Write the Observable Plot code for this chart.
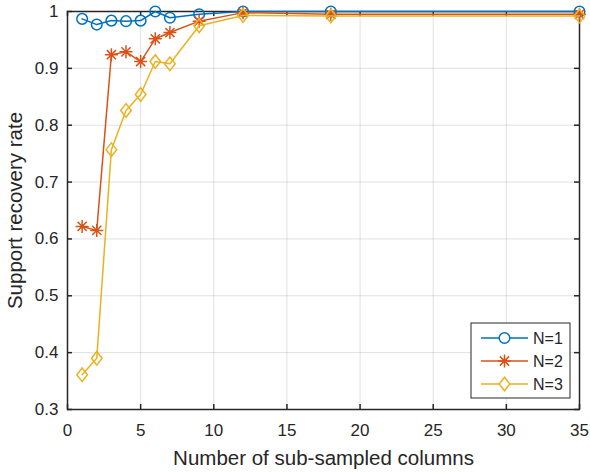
<!DOCTYPE html>
<html>
<head>
<meta charset="utf-8">
<script src="https://cdn.jsdelivr.net/npm/d3@7"></script>
<script src="https://cdn.jsdelivr.net/npm/@observablehq/plot@0.6"></script>
<style>
  html, body { margin: 0; padding: 0; background: #fff; }
  #chart { width: 590px; height: 472px; position: relative; }
  svg { font-family: "Liberation Sans", Arial, Helvetica, sans-serif; }
</style>
</head>
<body>
<div id="chart"></div>
<script>
// ---- data ----
const columns = [1, 2, 3, 4, 5, 6, 7, 9, 12, 18, 35];
const seriesNames = ["N=1", "N=2", "N=3"];
const rateN1 = [0.987, 0.977, 0.984, 0.983, 0.984, 1.000, 0.989, 0.995, 1.000, 1.000, 1.000];
const rateN2 = [0.622, 0.615, 0.924, 0.929, 0.912, 0.952, 0.963, 0.983, 0.998, 0.995, 0.995];
const rateN3 = [0.361, 0.390, 0.757, 0.826, 0.854, 0.912, 0.908, 0.975, 0.993, 0.992, 0.992];
const xTicks = [0, 5, 10, 15, 20, 25, 30, 35];
const yTicks = [0.3, 0.4, 0.5, 0.6, 0.7, 0.8, 0.9, 1];
const colors = ["#0072BD", "#D95319", "#EDB120"];

const seriesValues = [rateN1, rateN2, rateN3];

// custom symbols (MATLAB-like)
const asterisk8 = {
  draw(ctx, size) {
    const r = Math.sqrt(size / Math.PI);
    for (let i = 0; i < 4; i++) {
      const a = i * Math.PI / 4;
      const c = Math.cos(a) * r, s = Math.sin(a) * r;
      ctx.moveTo(-c, -s);
      ctx.lineTo(c, s);
    }
  }
};
const diamondM = {
  draw(ctx, size) {
    const r = Math.sqrt(size / Math.PI);
    const w = r * 0.78;
    ctx.moveTo(0, -r);
    ctx.lineTo(w, 0);
    ctx.lineTo(0, r);
    ctx.lineTo(-w, 0);
    ctx.closePath();
  }
};
const circleM = {
  draw(ctx, size) {
    const r = Math.sqrt(size / Math.PI);
    ctx.moveTo(r, 0);
    ctx.arc(0, 0, r, 0, 2 * Math.PI);
  }
};
const symbols = [circleM, asterisk8, diamondM];
const radii = [5.3, 6.5, 6.8];

const W = 590, H = 472;
const mL = 67, mR = 11, mT = 11, mB = 63;
const plotW = W - mL - mR, plotH = H - mT - mB;
const ink = "#262626";

const marks = [
  Plot.gridX(xTicks, {stroke: "#000", strokeOpacity: 0.12, strokeWidth: 1}),
  Plot.gridY(yTicks, {stroke: "#000", strokeOpacity: 0.12, strokeWidth: 1}),
  // inward ticks on all four sides
  Plot.ruleX(xTicks, {x: d => d, insetTop: plotH - 5, stroke: ink, strokeWidth: 1.5}),
  Plot.ruleX(xTicks, {x: d => d, insetBottom: plotH - 5, stroke: ink, strokeWidth: 1.5}),
  Plot.ruleY(yTicks, {y: d => d, insetRight: plotW - 5, stroke: ink, strokeWidth: 1.5}),
  Plot.ruleY(yTicks, {y: d => d, insetLeft: plotW - 5, stroke: ink, strokeWidth: 1.5}),
  Plot.frame({stroke: ink, strokeWidth: 1.5}),
  Plot.axisX(xTicks, {tickSize: 0, tickPadding: 14, fontSize: 17, color: ink, label: null}),
  Plot.axisY(yTicks, {tickSize: 0, tickPadding: 9, fontSize: 17, color: ink, label: null, tickFormat: d => String(+d.toFixed(1))}),
  Plot.text(["Number of sub-sampled columns"], {frameAnchor: "bottom", dy: 49, fontSize: 20.5, fill: ink, textAnchor: "middle", lineAnchor: "middle"}),
  Plot.text(["Support recovery rate"], {frameAnchor: "left", dx: -52, rotate: -90, fontSize: 20.5, fill: ink, textAnchor: "middle", lineAnchor: "middle"})
];

seriesValues.forEach((vals, i) => {
  const rows = columns.map((c, j) => ({x: c, y: vals[j], s: seriesNames[i]}));
  marks.push(Plot.line(rows, {x: "x", y: "y", stroke: colors[i], strokeWidth: 1.5}));
  marks.push(Plot.dot(rows, {x: "x", y: "y", symbol: symbols[i], r: radii[i], stroke: colors[i], fill: "none", strokeWidth: 1.5}));
});

const svg = Plot.plot({
  width: W, height: H,
  marginLeft: mL, marginRight: mR, marginTop: mT, marginBottom: mB,
  x: {domain: [0, 35], axis: null},
  y: {domain: [0.3, 1], axis: null},
  style: {fontFamily: '"Liberation Sans", Arial, Helvetica, sans-serif', background: "#fff"},
  marks
});

// legend (inside the plot, bottom right)
const lg = d3.select(svg).append("g").attr("class", "legend").attr("text-anchor", "start");
const lx = 471, ly = 323, lw = 99, lh = 75;
lg.append("rect").attr("x", lx).attr("y", ly).attr("width", lw).attr("height", lh)
  .attr("fill", "#fff").attr("stroke", ink).attr("stroke-width", 1);
seriesNames.forEach((name, i) => {
  const cy = ly + 15 + i * 23;
  lg.append("line").attr("x1", lx + 10).attr("x2", lx + 57).attr("y1", cy).attr("y2", cy)
    .attr("stroke", colors[i]).attr("stroke-width", 1.5);
  lg.append("path").attr("transform", `translate(${lx + 33.5},${cy})`)
    .attr("d", d3.symbol(symbols[i], Math.PI * radii[i] * radii[i])())
    .attr("fill", "#fff").attr("stroke", colors[i]).attr("stroke-width", 1.5);
  lg.append("text").attr("x", lx + 62).attr("y", cy).attr("dy", "0.35em")
    .attr("text-anchor", "start")
    .attr("font-size", 16).attr("fill", ink).text(name);
});

document.getElementById("chart").appendChild(svg);
</script>
</body>
</html>
